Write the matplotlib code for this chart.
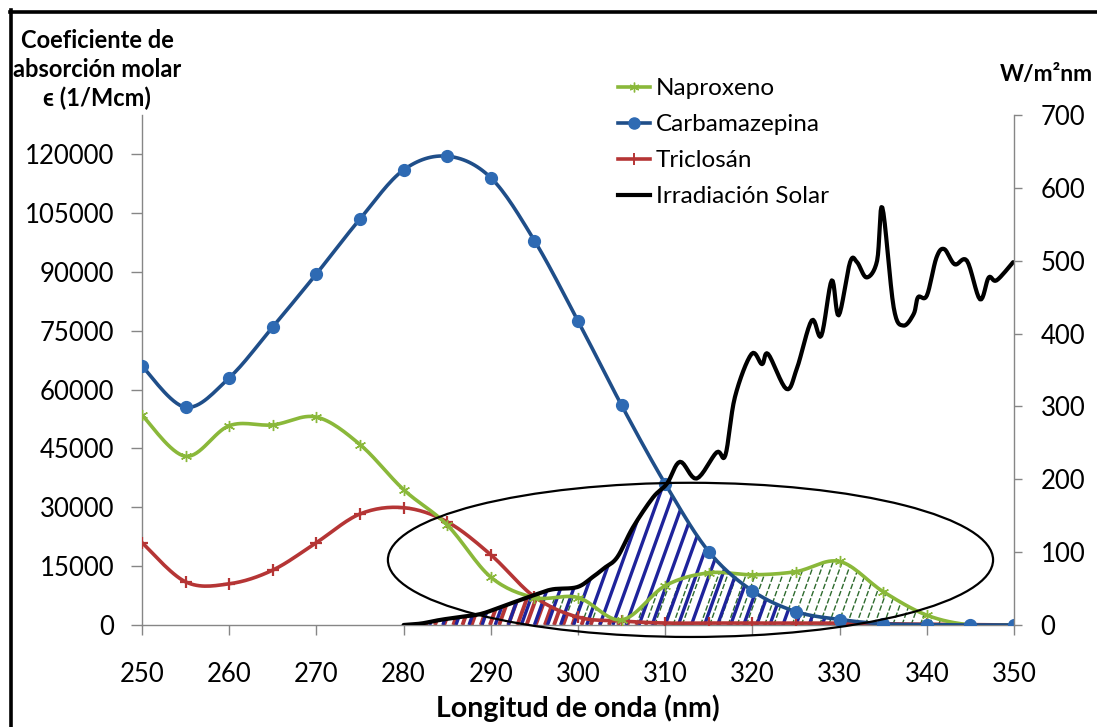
import numpy as np
import matplotlib
matplotlib.use("Agg")
import matplotlib.pyplot as plt
from matplotlib.lines import Line2D
from matplotlib.patches import Ellipse
from matplotlib.collections import LineCollection

# datos
longitud = [250, 255, 260, 265, 270, 275, 280, 285, 290, 295, 300,
            305, 310, 315, 320, 325, 330, 335, 340, 345, 350]
naproxeno = [53500, 43000, 50800, 51000, 53000, 46000, 34500, 25500, 12200, 7000, 7000,
             1300, 10000, 13300, 12800, 13600, 16200, 8500, 2500, 0, 0]
carbamazepina = [66000, 55500, 63000, 76000, 89500, 103500, 116000, 119500, 114000, 98000, 77500,
                 56000, 36000, 18700, 8700, 3400, 1400, 300, 100, 0, 0]
triclosan = [21000, 11000, 10500, 14000, 21000, 28300, 29900, 26300, 17900, 7200, 2000,
             1000, 500, 500, 500, 500, 500, 300, 200, 100, 0]

solar_nm = [280.0, 282.0, 284.2, 286.5, 288.8, 291.0, 293.3, 295.2, 297.1, 299.9, 301.7,
            303.0, 304.5, 306.3, 308.6, 310.2, 311.7, 313.6, 315.9, 316.9, 318.0,
            319.9, 321.1, 321.8, 323.9, 325.1, 326.8, 327.9, 329.1, 329.9, 331.2,
            332.0, 333.1, 334.3, 334.9, 336.2, 337.3, 338.5, 339.0, 340.0, 341.1,
            342.0, 343.2, 344.6, 346.1, 347.1, 348.0, 349.9]
solar_w = [0, 2, 7, 11, 15, 24, 34, 42, 49, 52, 66,
           78, 93, 134, 175, 194, 224, 201, 237, 233, 313,
           372, 358, 372, 324, 352, 418, 397, 473, 425, 498,
           498, 477, 500, 573, 436, 411, 427, 450, 452, 504,
           516, 495, 500, 447, 477, 473, 498]

x_ticks = [250, 260, 270, 280, 290, 300, 310, 320, 330, 340, 350]
y_ticks = [0, 15000, 30000, 45000, 60000, 75000, 90000, 105000, 120000]
y2_ticks = [0, 100, 200, 300, 400, 500, 600, 700]
labels = ['Naproxeno', 'Carbamazepina', 'Triclosán', 'Irradiación Solar']

Y_MAX = 130000
Y2_MAX = 700

C_NAP = '#8AB83A'
C_CARB = '#1F4E89'
C_CARB_MK = '#2E6AB3'
C_TRI = '#B53535'

plt.rcParams['font.family'] = ['Lato', 'DejaVu Sans']


def suavizar(x, y, n=16):
    # curva suavizada tipo Excel (Bezier cubica por tramos)
    p = np.column_stack([x, y]).astype(float)
    p_ext = np.vstack([p[0], p, p[-1]])
    t = np.linspace(0, 1, n, endpoint=False)[:, None]
    out = []
    for i in range(len(p) - 1):
        p0, p1 = p_ext[i + 1], p_ext[i + 2]
        c1 = p0 + (p_ext[i + 2] - p_ext[i]) / 6
        c2 = p1 - (p_ext[i + 3] - p_ext[i + 1]) / 6
        seg = ((1 - t) ** 3) * p0 + 3 * ((1 - t) ** 2) * t * c1 + 3 * (1 - t) * t ** 2 * c2 + t ** 3 * p1
        out.append(seg)
    out.append(p[-1:])
    out = np.vstack(out)
    return out[:, 0], out[:, 1]


def rayado(ax, region, color, lw, paso, dash=None, z=1):
    # lineas inclinadas (en coordenadas de ejes) recortadas a la region
    inclin = 0.21
    starts = np.arange(-inclin, 1.0, paso)
    segs = [[(u, 0), (u + inclin, 1)] for u in starts]
    lc = LineCollection(segs, colors=color, linewidths=lw, transform=ax.transAxes,
                        zorder=z, capstyle='butt')
    if dash:
        lc.set_linestyle((0, dash))
    ax.add_collection(lc)
    lc.set_clip_path(region.get_paths()[0], ax.transData)


fig = plt.figure(figsize=(10.97, 7.27), dpi=100)
ax = fig.add_axes([142 / 1097, 1 - 625 / 727, 872 / 1097, 510 / 727])
ax2 = ax.twinx()

xs_n, ys_n = suavizar(longitud, naproxeno)
xs_c, ys_c = suavizar(longitud, carbamazepina)
xs_t, ys_t = suavizar(longitud, triclosan)
xs_s, ys_s = suavizar(solar_nm, solar_w, n=8)

# zona de solapamiento con la irradiacion solar
grid = np.linspace(280, 350, 1400)
solar_left = np.clip(np.interp(grid, xs_s, ys_s) * Y_MAX / Y2_MAX, 0, None)

for xs, ys, col, lw, paso, dash in [(xs_n, ys_n, '#2E6B2E', 1.0, 0.0105, (4, 1.5)),
                                    (xs_t, ys_t, C_TRI, 2.8, 0.0105, None),
                                    (xs_c, ys_c, '#1E239B', 2.4, 0.0150, None)]:
    top = np.minimum(solar_left, np.clip(np.interp(grid, xs, ys), 0, None))
    reg = ax.fill_between(grid, 0, top, facecolor='none', edgecolor='none', linewidth=0)
    rayado(ax, reg, col, lw, paso, dash)

# curvas de absorcion
ax.plot(xs_t, ys_t, color=C_TRI, lw=2.6, zorder=3)
ax.plot(longitud, triclosan, ls='none', marker='+', ms=9, mew=1.6, color=C_TRI, zorder=3)
ax.plot(xs_n, ys_n, color=C_NAP, lw=2.6, zorder=3)
ax.plot(longitud, naproxeno, ls='none', marker=(6, 2, 0), ms=8, mew=1.0, color=C_NAP, zorder=3)
ax.plot(xs_c, ys_c, color=C_CARB, lw=2.6, zorder=4)
ax.plot(longitud, carbamazepina, ls='none', marker='o', ms=8.5, color=C_CARB_MK,
        mec=C_CARB_MK, zorder=4)

ax2.plot(xs_s, ys_s, color='black', lw=3.0, solid_capstyle='round')

# elipse que marca la zona
ax.add_patch(Ellipse((312.9, 16600), 69.4, 39300, fill=False, edgecolor='black',
                     lw=1.6, clip_on=False, zorder=5))

ax.set_xlim(250, 350)
ax.set_ylim(0, Y_MAX)
ax2.set_ylim(0, Y2_MAX)
ax.set_xticks(x_ticks)
ax.set_yticks(y_ticks)
ax2.set_yticks(y2_ticks)

for a in (ax, ax2):
    for s in a.spines.values():
        s.set_color('#868686')
        s.set_linewidth(1.0)
    a.spines['top'].set_visible(False)
ax.spines['right'].set_visible(False)
ax2.spines['left'].set_visible(False)
ax2.spines['bottom'].set_visible(False)

ax.tick_params(axis='y', length=8, width=1, color='#868686', labelsize=18.5, pad=12)
ax.tick_params(axis='x', length=7, width=1, color='#868686', labelsize=18.5, pad=20)
ax2.tick_params(axis='y', length=6, width=1, color='#868686', labelsize=18.5, pad=13)

ax.set_xlabel('Longitud de onda (nm)', fontsize=20.5, fontweight='bold', labelpad=5)

fig.text(97 / 1097, 1 - 70 / 727, 'Coeficiente de\nabsorción molar\nϵ (1/Mcm)',
         ha='center', va='center', fontsize=17, fontweight='bold', linespacing=1.3)
fig.text(1046 / 1097, 1 - 75 / 727, 'W/m²nm', ha='center', va='center',
         fontsize=16.5, fontweight='bold')

handles = [Line2D([], [], color=C_NAP, lw=2.6, marker=(6, 2, 0), ms=7),
           Line2D([], [], color=C_CARB, lw=2.6, marker='o', ms=8, mfc=C_CARB_MK, mec=C_CARB_MK),
           Line2D([], [], color=C_TRI, lw=2.6, marker='+', ms=9, mew=1.4),
           Line2D([], [], color='black', lw=3.0)]
fig.legend(handles, labels, loc='upper left', bbox_to_anchor=(606 / 1097, 1 - 66 / 727),
           frameon=False, fontsize=17.5, handlelength=1.3, handletextpad=0.25,
           labelspacing=0.62, borderpad=0)

# marco negro del grafico
fig.add_artist(Line2D([10 / 1097, 1], [1 - 11.5 / 727, 1 - 11.5 / 727], color='black', lw=2.6,
                      transform=fig.transFigure))
fig.add_artist(Line2D([11 / 1097, 11 / 1097], [0, 1 - 10 / 727], color='black', lw=2.6,
                      transform=fig.transFigure))

fig.savefig('out.png', dpi=100)
